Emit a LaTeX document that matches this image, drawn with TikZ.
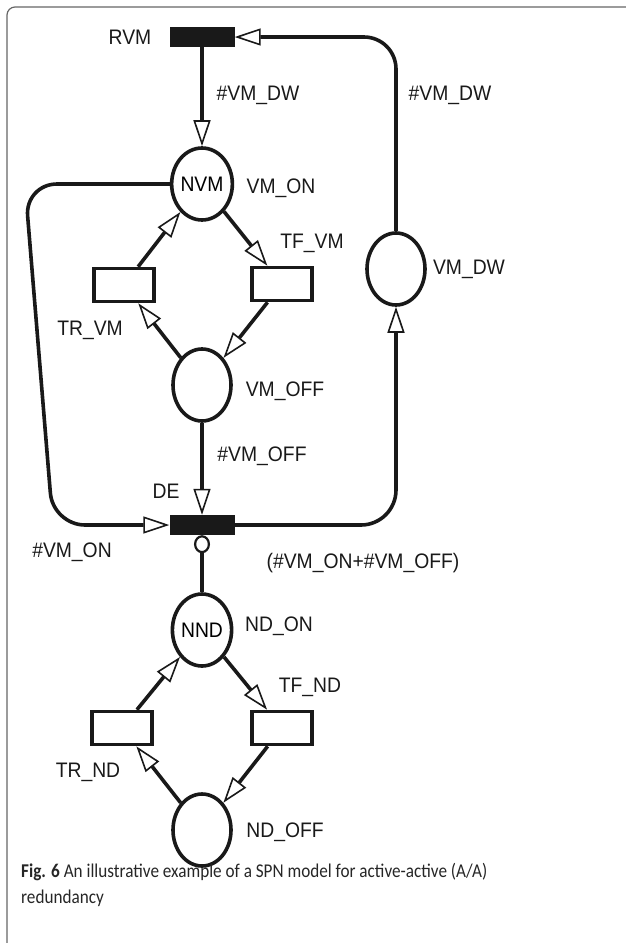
\documentclass[tikz,border=0pt]{standalone}
\usepackage{fontspec}
\setmainfont{Liberation Sans}[FakeStretch=0.92]
\newfontfamily\capfont{Carlito}[FakeStretch=0.88]
\usepackage{tikz}
\usetikzlibrary{shapes.geometric, arrows.meta, positioning}

\begin{document}
\begin{tikzpicture}[
        x=1pt, y=-1pt,
        on grid,
        font=\fontsize{21}{24}\selectfont,
        place/.style={ellipse, draw=black!90, line width=3.6pt, minimum width=58pt, minimum height=72pt, inner sep=0pt},
        timed/.style={rectangle, draw=black!90, line width=3.6pt, minimum width=60pt, minimum height=33pt},
        imm/.style={rectangle, fill=black!90, minimum width=65pt, minimum height=20pt},
        lbl/.style={text=black!90, inner sep=0pt},
        arrow/.style={line width=3.6pt, draw=black!90, -{Triangle[fill=white, line width=1.6pt, length=26pt, width=17pt]}},
        inhib/.style={line width=3.6pt, draw=black!90, -{Circle[fill=white, line width=2.2pt, length=18pt, width=16pt]}},
        frame/.style={draw=black!60, line width=1.2pt, rounded corners=8pt}
    ]
    \useasboundingbox (0,0) rectangle (626,943);
    \draw [frame] (626,7) -- (7,7) -- (7,943);

    \node (rvm) [imm] at (202,37) {};
    \node (nvm) [place, below=147pt of rvm] {NVM};
    \node (trvm) [timed, below left=101pt and 78pt of nvm] {};
    \node (tfvm) [timed, below right=100pt and 80pt of nvm] {};
    \node (vmoff) [place, below=201pt of nvm] {};
    \node (vmdw) [place, below right=85pt and 194pt of nvm] {};
    \node (de) [imm, below=140pt of vmoff] {};
    \node (nnd) [place, below=105pt of de] {NND};
    \node (trnd) [timed, below left=98pt and 80pt of nnd] {};
    \node (tfnd) [timed, below right=98pt and 80pt of nnd] {};
    \node (ndoff) [place, below=200pt of nnd] {};

    \node (rvmlabel) [lbl, left=72pt of rvm] {RVM};
    \node (dwin) [lbl, below right=58pt and 56pt of rvm] {\#VM\_DW};
    \node (dwout) [lbl, above right=174pt and 54pt of vmdw] {\#VM\_DW};
    \node (nvmlabel) [lbl, below right=4pt and 79pt of nvm] {VM\_ON};
    \node (tfvmlabel) [lbl, above right=41pt and 30pt of tfvm] {TF\_VM};
    \node (trvmlabel) [lbl, below left=45pt and 34pt of trvm] {TR\_VM};
    \node (vmdwlabel) [lbl, right=73pt of vmdw] {VM\_DW};
    \node (vmofflabel) [lbl, below right=6pt and 83pt of vmoff] {VM\_OFF};
    \node (offin) [lbl, below right=71pt and 60pt of vmoff] {\#VM\_OFF};
    \node (delabel) [lbl, above left=34pt and 36pt of de] {DE};
    \node (onin) [lbl, below left=27pt and 130pt of de] {\#VM\_ON};
    \node (inhlabel) [lbl, below right=38pt and 161pt of de] {(\#VM\_ON+\#VM\_OFF)};
    \node (nndlabel) [lbl, above right=4pt and 77pt of nnd] {ND\_ON};
    \node (tfndlabel) [lbl, above right=41pt and 28pt of tfnd] {TF\_ND};
    \node (trndlabel) [lbl, below left=44pt and 34pt of trnd] {TR\_ND};
    \node (ndofflabel) [lbl, below right=2pt and 83pt of ndoff] {ND\_OFF};

    \coordinate (ltop) at (25,184);
    \coordinate (lbot) at (53,525);

    \draw [arrow] (rvm) -- (nvm);
    \draw [arrow] (nvm) -- (tfvm);
    \draw [arrow] (tfvm) -- (vmoff);
    \draw [arrow] (vmoff) -- (trvm);
    \draw [arrow] (trvm) -- (nvm);
    \draw [arrow] (vmoff) -- (de);
    \draw [arrow, rounded corners=32pt] (nvm.west) -- (ltop) -- (lbot) -- (de.west);
    \draw [arrow, rounded corners=35pt] (de) -| (vmdw);
    \draw [arrow, rounded corners=32pt] (vmdw) |- (rvm);
    \draw [inhib] (nnd) -- (de);
    \draw [arrow] (nnd) -- (tfnd);
    \draw [arrow] (tfnd) -- (ndoff);
    \draw [arrow] (ndoff) -- (trnd);
    \draw [arrow] (trnd) -- (nnd);

    \node (caption) [anchor=base west, align=left, text=black!85, inner sep=0pt,
        font=\capfont\fontsize{19.5}{26}\selectfont] at (21,903)
        {\textbf{Fig. 6} An illustrative example of a SPN model for active-active (A/A)\\redundancy};
\end{tikzpicture}
\end{document}
